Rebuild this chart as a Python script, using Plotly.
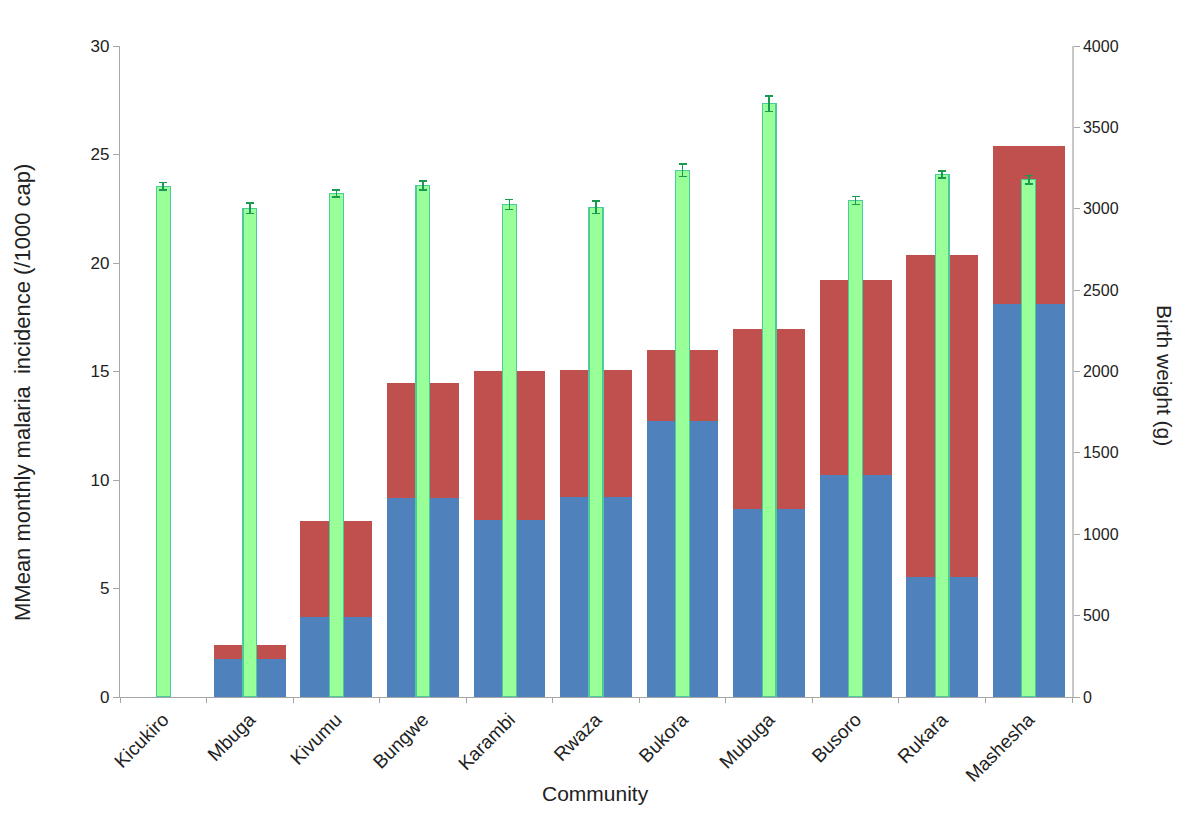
import plotly.graph_objects as go

communities = ["Kicukiro", "Mbuga", "Kivumu", "Bungwe", "Karambi", "Rwaza",
               "Bukora", "Mubuga", "Busoro", "Rukara", "Mashesha"]
incidence_blue = [0, 1.77, 3.69, 9.16, 8.16, 9.2, 12.7, 8.66, 10.25, 5.51, 18.12]
incidence_total = [0, 2.38, 8.11, 14.49, 15.04, 15.08, 16.0, 16.98, 19.2, 20.39, 25.38]
incidence_red = [round(t - b, 2) for t, b in zip(incidence_total, incidence_blue)]
birth_weight = [3138, 3003, 3093, 3143, 3026, 3009, 3236, 3645, 3050, 3211, 3178]
birth_weight_err = [24, 33, 22, 29, 30, 37, 39, 48, 25, 21, 27]

FONT = "Liberation Sans, Arial, sans-serif"

# page has an 8px body margin; figure is sized to fill the rest of the window
W, H = 1192, 816
L, R, T, B = 112, 128, 38, 127

fig = go.Figure()
fig.add_trace(go.Bar(x=communities, y=incidence_blue, marker=dict(color="#4F81BD", line=dict(width=0)),
                     width=0.83, yaxis="y", showlegend=False))
fig.add_trace(go.Bar(x=communities, y=incidence_red, marker=dict(color="#C0504D", line=dict(width=0)),
                     width=0.83, yaxis="y", showlegend=False))
fig.add_trace(go.Bar(x=communities, y=birth_weight, yaxis="y2", width=0.16,
                     marker=dict(color="#99FF99", line=dict(color="#4CCB9A", width=1.3)),
                     error_y=dict(type="data", array=birth_weight_err, visible=True,
                                  color="#1A9A50", thickness=1.6, width=4),
                     showlegend=False))


def ann(text, px, py, size, angle=0):
    # px, py given in window pixels
    fx, fy = px - 8, py - 8
    return dict(text=text, x=(fx - L) / (W - L - R), y=1 - (fy - T) / (H - T - B),
                xref="paper", yref="paper", xanchor="center", yanchor="middle",
                textangle=angle, showarrow=False, font=dict(size=size, color="#222"))


fig.update_layout(
    width=W, height=H,
    barmode="stack",
    plot_bgcolor="white", paper_bgcolor="white",
    margin=dict(l=L, r=R, t=T, b=B, autoexpand=False),
    font=dict(family=FONT, size=16, color="#222"),
    xaxis=dict(showline=True, linecolor="#A6A6A6", linewidth=1.2, ticks="outside",
               tickcolor="#A6A6A6", ticklen=5, tickson="boundaries", tickangle=-45,
               ticklabelstandoff=3,
               tickfont=dict(size=19, color="#222"), showgrid=False),
    yaxis=dict(range=[0, 30], tickvals=[0, 5, 10, 15, 20, 25, 30], showline=True,
               linecolor="#A6A6A6", linewidth=1.2, ticks="outside", tickcolor="#A6A6A6",
               ticklen=6, showgrid=False, zeroline=False, tickfont=dict(size=17, color="#222")),
    yaxis2=dict(range=[0, 4000], tickvals=[0, 500, 1000, 1500, 2000, 2500, 3000, 3500, 4000],
                overlaying="y", side="right", showline=True, linecolor="#C8C8C8", linewidth=1.5,
                ticks="outside", tickcolor="#A6A6A6", ticklen=6, showgrid=False, zeroline=False,
                tickfont=dict(size=16, color="#222")),
    annotations=[
        ann("MMean monthly malaria  incidence (/1000 cap)", 22, 393, 22, -90),
        ann("Birth weight (g)", 1165, 375, 21, 90),
        ann("Community", 595, 793, 21),
    ],
)

fig.write_html("out.html")
